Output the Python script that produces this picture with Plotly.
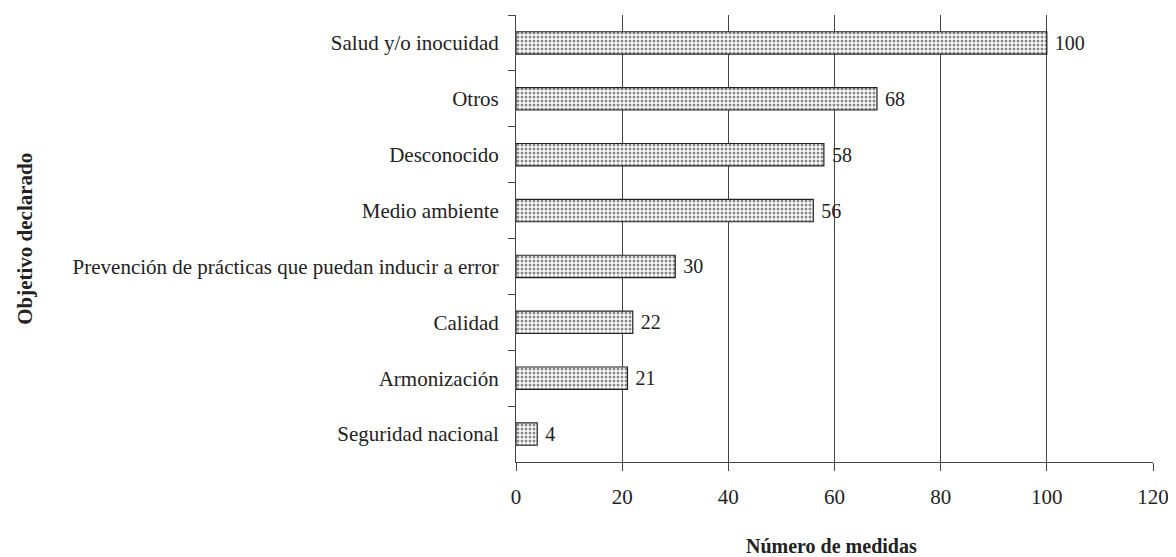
import plotly.graph_objects as go

categorias = ["Salud y/o inocuidad", "Otros", "Desconocido", "Medio ambiente",
              "Prevención de prácticas que puedan inducir a error", "Calidad",
              "Armonización", "Seguridad nacional"]
valores = [100, 68, 58, 56, 30, 22, 21, 4]
x_ticks = [0, 20, 40, 60, 80, 100, 120]

font_fam = "Liberation Serif, Times New Roman, serif"

fig = go.Figure(go.Bar(
    x=valores, y=categorias, orientation="h",
    marker=dict(color="white", line=dict(color="#222222", width=1.2),
                pattern=dict(shape=".", fgcolor="#111111", bgcolor="white",
                             size=4, solidity=0.45)),
    text=["\u00a0" + str(v) for v in valores], textposition="outside",
    textfont=dict(family=font_fam, size=20, color="#222222"),
    cliponaxis=False, width=0.4,
))

# page body has 8px default margin -> compensate
W, H = 1168, 549
L, R, T, B = 508, 20, 7, 95
fig.update_layout(
    width=W, height=H,
    margin=dict(l=L, r=R, t=T, b=B),
    plot_bgcolor="white", paper_bgcolor="white",
    font=dict(family=font_fam, size=20, color="#222222"),
    showlegend=False,
)
fig.update_xaxes(
    range=[0, 120], tickvals=x_ticks, showgrid=True, gridcolor="#444444", gridwidth=1,
    showline=True, linecolor="#444444", linewidth=1, ticks="outside", ticklen=8,
    tickcolor="#444444", zeroline=False,
    tickfont=dict(size=21), ticklabelstandoff=8,
)
fig.update_yaxes(
    autorange="reversed", categoryorder="array", categoryarray=categorias,
    showline=True, linecolor="#444444", linewidth=1, ticks="outside", ticklen=7,
    tickcolor="#444444", tickson="boundaries", showgrid=False,
    ticklabelstandoff=12, tickfont=dict(size=21),
)
plot_w = W - L - R
plot_h = H - T - B
# y-axis title
fig.add_annotation(text="<b>Objetivo declarado</b>", xref="paper", yref="paper",
                   x=(14 - L) / plot_w, y=0.5, xanchor="center", yanchor="middle",
                   showarrow=False, textangle=-90, font=dict(size=21))
# x-axis title
fig.add_annotation(text="<b>Número de medidas</b>", xref="paper", yref="paper",
                   x=(825 - L) / plot_w, y=-(546 - 8 - (H - B)) / plot_h,
                   xanchor="center", yanchor="middle",
                   showarrow=False, font=dict(size=20))

fig.write_html("out.html")
